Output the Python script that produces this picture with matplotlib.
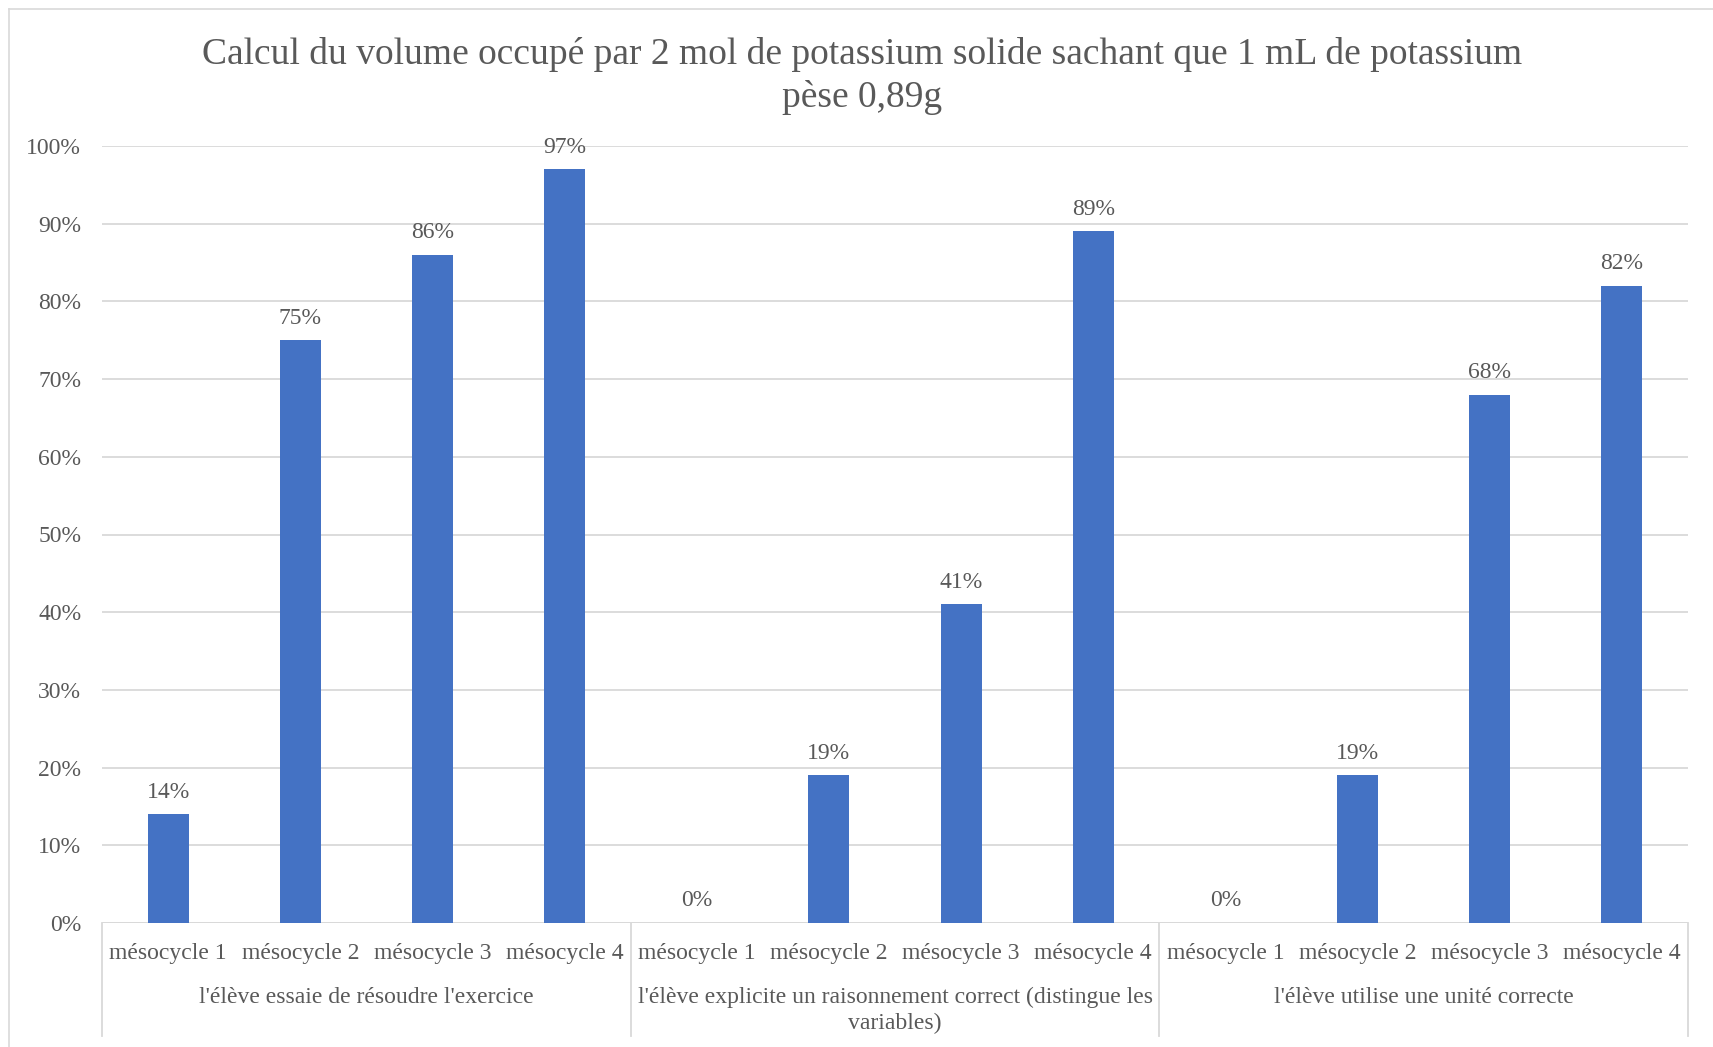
import matplotlib.pyplot as plt
from matplotlib.lines import Line2D
import numpy as np

plt.rcParams['font.family'] = ['Liberation Serif', 'DejaVu Serif']

# Data
groups = [
    "l'élève essaie de résoudre l'exercice",
    "l'élève explicite un raisonnement correct (distingue les\nvariables)",
    "l'élève utilise une unité correcte",
]
cycles = ["mésocycle 1", "mésocycle 2", "mésocycle 3", "mésocycle 4"]
values = [
    [14, 75, 86, 97],
    [0, 19, 41, 89],
    [0, 19, 68, 82],
]
title = "Calcul du volume occupé par 2 mol de potassium solide sachant que 1 mL de potassium\npèse 0,89g"

text_col = '#595959'
grid_col = '#d9d9d9'
bar_col = '#4472C4'
fs = 17

W, H = 1713, 1047
fig = plt.figure(figsize=(W / 100, H / 100), dpi=100)

# chart frame
fig.add_artist(Line2D([9 / W, 9 / W], [0, 1 - 9 / H], color=grid_col, lw=1.2))
fig.add_artist(Line2D([9 / W, 1], [1 - 9 / H, 1 - 9 / H], color=grid_col, lw=1.2))

left, right, top, bottom = 102, 1688, 146, 923
ax = fig.add_axes([left / W, 1 - bottom / H, (right - left) / W, (bottom - top) / H])

flat = [v for g in values for v in g]
x = np.arange(len(flat))
bars = ax.bar(x, flat, width=0.31, color=bar_col, zorder=3)
for xi, v in zip(x, flat):
    ax.annotate(f"{v}%", (xi, v), xytext=(0, 12), textcoords='offset points',
                ha='center', va='baseline', fontsize=fs, color=text_col)

ax.set_xlim(-0.5, len(flat) - 0.5)
ax.set_ylim(0, 100)
ax.set_yticks(np.arange(0, 101, 10))
ax.set_yticklabels([f"{t}%" for t in range(0, 101, 10)])
ax.grid(axis='y', color=grid_col, lw=1.3, zorder=0)
ax.tick_params(axis='y', length=0, pad=15, labelsize=fs, labelcolor=text_col)
ax.set_xticks([])
for s in ax.spines.values():
    s.set_visible(False)
ax.axhline(0, color=grid_col, lw=1.3, zorder=2)

# two-level category axis
depth = -(1036 - bottom) / (bottom - top)
trans = ax.get_xaxis_transform()
for b in np.arange(-0.5, len(flat), 4):
    ax.plot([b, b], [0, depth], transform=trans, color=grid_col, lw=1.3, clip_on=False)
lab_y = -(953 - bottom) / (bottom - top)
for xi in x:
    ax.text(xi, lab_y, cycles[xi % 4], transform=trans, ha='center', va='center',
            fontsize=fs, color=text_col)
grp_y = -(987 - bottom) / (bottom - top)
for gi, g in enumerate(groups):
    ax.text(gi * 4 + 1.5, grp_y, g, transform=trans, ha='center', va='top',
            fontsize=fs, color=text_col, linespacing=1.3)

fig.text(0.503, 1 - 76 / H, title, ha='center', va='center', fontsize=27,
         color=text_col, linespacing=1.3)

fig.savefig('out.png', dpi=100, facecolor='white')
